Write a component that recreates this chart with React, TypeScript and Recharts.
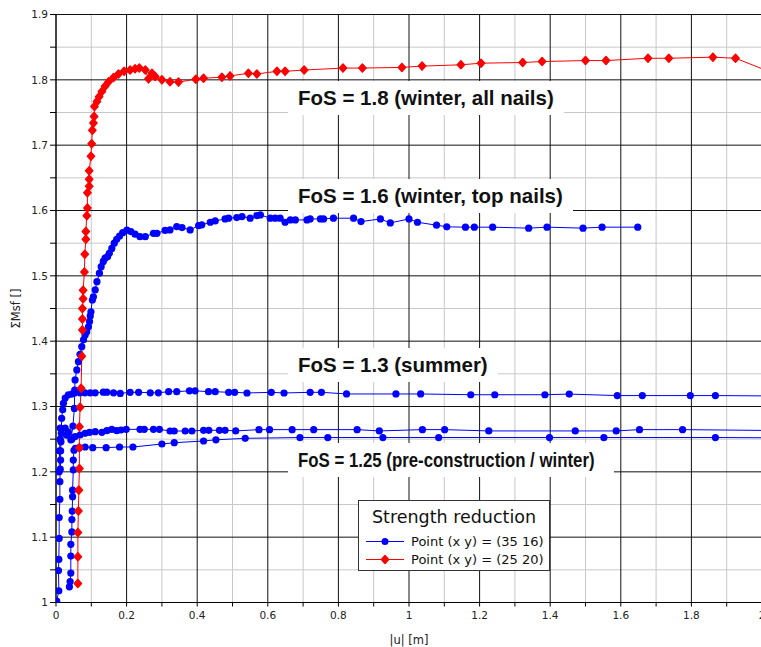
import React from 'react';
import { LineChart, Line, XAxis, YAxis, CartesianGrid } from 'recharts';

// axis ticks
const xTicks = [0, 0.1, 0.2, 0.3, 0.4, 0.5, 0.6, 0.7, 0.8, 0.9, 1, 1.1, 1.2, 1.3, 1.4, 1.5, 1.6, 1.7, 1.8, 1.9, 2];
const xMajor = [0, 0.2, 0.4, 0.6, 0.8, 1, 1.2, 1.4, 1.6, 1.8, 2];
const xMinor = [0.1, 0.3, 0.5, 0.7, 0.9, 1.1, 1.3, 1.5, 1.7, 1.9];
const yTicks = [1, 1.05, 1.1, 1.15, 1.2, 1.25, 1.3, 1.35, 1.4, 1.45, 1.5, 1.55, 1.6, 1.65, 1.7, 1.75, 1.8, 1.85, 1.9];
const yMajor = [1, 1.1, 1.2, 1.3, 1.4, 1.5, 1.6, 1.7, 1.8, 1.9];
const yMinor = [1.05, 1.15, 1.25, 1.35, 1.45, 1.55, 1.65, 1.75, 1.85];

// Point (25 20) - red
const red: [number, number][] = [
  [0.062, 1.029], [0.062, 1.07], [0.062, 1.107], [0.0635, 1.14], [0.0646, 1.172], [0.0663, 1.205],
  [0.0663, 1.237], [0.0663, 1.269], [0.0683, 1.299], [0.0711, 1.328], [0.0731, 1.377], [0.0748, 1.417],
  [0.0748, 1.434], [0.0748, 1.45], [0.0768, 1.465], [0.0768, 1.478], [0.0805, 1.506], [0.0816, 1.533],
  [0.0845, 1.556], [0.0845, 1.568], [0.0873, 1.592], [0.089, 1.604], [0.089, 1.627], [0.094, 1.637],
  [0.094, 1.648], [0.094, 1.661], [0.099, 1.683], [0.101, 1.702], [0.103, 1.723], [0.106, 1.734],
  [0.108, 1.744], [0.109, 1.759], [0.116, 1.767], [0.122, 1.774], [0.13, 1.782], [0.139, 1.79],
  [0.149, 1.797], [0.163, 1.8035], [0.177, 1.809], [0.193, 1.813], [0.21, 1.815], [0.224, 1.817],
  [0.236, 1.818], [0.253, 1.815], [0.262, 1.8015], [0.272, 1.81], [0.281, 1.805], [0.3, 1.8],
  [0.323, 1.797], [0.347, 1.7965], [0.396, 1.801], [0.418, 1.8025], [0.47, 1.804], [0.493, 1.806],
  [0.545, 1.81], [0.569, 1.809], [0.626, 1.813], [0.649, 1.813], [0.703, 1.815], [0.813, 1.818],
  [0.868, 1.818], [0.98, 1.819], [1.037, 1.821], [1.147, 1.823], [1.204, 1.8255], [1.322, 1.8265],
  [1.377, 1.828], [1.5, 1.8295], [1.558, 1.8295], [1.677, 1.833], [1.736, 1.833], [1.861, 1.8347],
  [1.925, 1.833], [2.08, 1.8],
];

// Point (35 16) - blue, FoS 1.6 run
const blue16: [number, number][] = [
  [0.03, 1.256], [0.042, 1.249], [0.048, 1.27], [0.052, 1.297], [0.053, 1.325], [0.054, 1.3406],
  [0.059, 1.356], [0.0635, 1.3686], [0.068, 1.38], [0.073, 1.3916], [0.078, 1.402], [0.0825, 1.4095],
  [0.087, 1.4146], [0.092, 1.422], [0.095, 1.43], [0.097, 1.4386], [0.099, 1.445], [0.103, 1.463],
  [0.106, 1.468], [0.111, 1.4784], [0.116, 1.491], [0.123, 1.504], [0.128, 1.514], [0.134, 1.522],
  [0.139, 1.527], [0.146, 1.5294], [0.151, 1.5346], [0.158, 1.542], [0.165, 1.55], [0.172, 1.556],
  [0.18, 1.561], [0.189, 1.566], [0.201, 1.57], [0.212, 1.5677], [0.224, 1.5637], [0.238, 1.56],
  [0.253, 1.56], [0.276, 1.565], [0.286, 1.565], [0.309, 1.5695], [0.323, 1.5703], [0.342, 1.5754],
  [0.357, 1.5738], [0.38, 1.5703], [0.404, 1.5769], [0.413, 1.578], [0.437, 1.582], [0.451, 1.584],
  [0.479, 1.5871], [0.489, 1.5882], [0.512, 1.5891], [0.527, 1.5907], [0.55, 1.5882], [0.569, 1.5922],
  [0.579, 1.5933], [0.607, 1.5882], [0.621, 1.5882], [0.635, 1.5882], [0.649, 1.582], [0.664, 1.5856],
  [0.678, 1.5856], [0.711, 1.5856], [0.72, 1.5871], [0.749, 1.5871], [0.758, 1.5871], [0.786, 1.5882],
  [0.843, 1.5882], [0.864, 1.583], [0.919, 1.5871], [0.947, 1.581], [1.0, 1.5871], [1.024, 1.582],
  [1.078, 1.5775], [1.107, 1.575], [1.16, 1.5745], [1.185, 1.5745], [1.237, 1.5745], [1.339, 1.573],
  [1.391, 1.5745], [1.493, 1.573], [1.547, 1.5745], [1.648, 1.5745],
];

// FoS 1.3 run
const blue13: [number, number][] = [
  [0.002, 1.002], [0.008, 1.018], [0.007, 1.049], [0.008, 1.066], [0.009, 1.098], [0.009, 1.13],
  [0.011, 1.158], [0.011, 1.185], [0.012, 1.204], [0.013, 1.218], [0.013, 1.232], [0.014, 1.246],
  [0.015, 1.259], [0.016, 1.282], [0.019, 1.295], [0.021, 1.305], [0.026, 1.313], [0.035, 1.318],
  [0.045, 1.319], [0.054, 1.321], [0.068, 1.321], [0.082, 1.321], [0.097, 1.321], [0.111, 1.321],
  [0.134, 1.322], [0.144, 1.322], [0.163, 1.321], [0.182, 1.32], [0.21, 1.3217], [0.234, 1.3217],
  [0.267, 1.321], [0.29, 1.321], [0.319, 1.3227], [0.342, 1.3227], [0.378, 1.324], [0.394, 1.324],
  [0.432, 1.3227], [0.451, 1.3227], [0.489, 1.3217], [0.506, 1.3217], [0.541, 1.3207], [0.61, 1.3217],
  [0.646, 1.3207], [0.72, 1.3217], [0.752, 1.3217], [0.823, 1.3192], [0.963, 1.3192], [1.033, 1.3192],
  [1.175, 1.318], [1.243, 1.318], [1.385, 1.318], [1.454, 1.319], [1.59, 1.3167], [1.661, 1.3167],
  [1.797, 1.3167], [1.868, 1.3167], [2.08, 1.316],
];

// FoS 1.25 runs
const blue125a: [number, number][] = [
  [0.009, 1.2], [0.01, 1.232], [0.012, 1.25], [0.012, 1.267], [0.026, 1.267], [0.035, 1.261],
  [0.045, 1.25], [0.054, 1.254], [0.068, 1.2564], [0.0825, 1.259], [0.095, 1.2605], [0.111, 1.2614],
  [0.13, 1.2605], [0.144, 1.263], [0.158, 1.265], [0.172, 1.263], [0.184, 1.264], [0.199, 1.265],
  [0.238, 1.265], [0.25, 1.265], [0.276, 1.265], [0.293, 1.265], [0.323, 1.2625], [0.335, 1.2625],
  [0.366, 1.2625], [0.385, 1.2625], [0.418, 1.2636], [0.433, 1.2636], [0.463, 1.2636], [0.479, 1.2636],
  [0.509, 1.2626], [0.575, 1.2646], [0.605, 1.2646], [0.669, 1.2646], [0.73, 1.2646], [0.853, 1.2646],
  [0.916, 1.2626], [1.038, 1.2646], [1.101, 1.2646], [1.226, 1.2626], [1.471, 1.2626], [1.587, 1.2626],
  [1.653, 1.2646], [1.775, 1.2646], [2.08, 1.263],
];
const blue125b: [number, number][] = [
  [0.038, 1.024], [0.04, 1.032], [0.042, 1.045], [0.042, 1.071], [0.042, 1.089], [0.045, 1.108],
  [0.045, 1.127], [0.046, 1.14], [0.047, 1.162], [0.047, 1.172], [0.049, 1.203], [0.049, 1.218],
  [0.051, 1.233], [0.055, 1.236], [0.066, 1.237], [0.0825, 1.238], [0.104, 1.237], [0.142, 1.237],
  [0.18, 1.238], [0.218, 1.238], [0.3, 1.2426], [0.335, 1.2446], [0.418, 1.2472], [0.453, 1.249],
  [0.536, 1.2513], [0.691, 1.2525], [0.77, 1.2525], [0.926, 1.2525], [1.084, 1.2525], [1.398, 1.2525],
  [1.552, 1.2525], [1.868, 1.2525], [2.08, 1.252],
];

// annotation labels (the last one is set in a narrow face)
const labels = [
  { text: 'FoS = 1.8 (winter, all nails)', top: 81, narrow: false },
  { text: 'FoS = 1.6 (winter, top nails)', top: 179, narrow: false },
  { text: 'FoS = 1.3 (summer)', top: 348, narrow: false },
  { text: 'FoS = 1.25 (pre-construction / winter)', top: 443, narrow: true },
];

const BLUE = '#0000ff';
const RED = '#ff0000';

const toRows = (pts: [number, number][]) => pts.map(([x, y]) => ({ x, y }));

const BlueDot = (p: any) => {
  if (p.cx == null || p.cy == null) return <g key={p.index} />;
  return <circle key={p.index} cx={p.cx} cy={p.cy} r={3.6} fill={BLUE} />;
};

const RedDot = (p: any) => {
  if (p.cx == null || p.cy == null) return <g key={p.index} />;
  const { cx, cy } = p;
  return (
    <path
      key={p.index}
      d={`M${cx},${cy - 4} L${cx + 3.6},${cy} L${cx},${cy + 4} L${cx - 3.6},${cy} Z`}
      fill={RED}
      stroke={RED}
      strokeWidth={1.5}
      strokeLinejoin="round"
    />
  );
};

const fmt = (major: number[]) => (v: number) => (major.includes(v) ? String(v) : '');

const tickStyle = { fontSize: 10.5, fill: '#222', fontFamily: 'DejaVu Sans, sans-serif' };

export default function App() {
  const series = [
    { key: 'b13', data: toRows(blue13), color: BLUE, dot: BlueDot },
    { key: 'b125a', data: toRows(blue125a), color: BLUE, dot: BlueDot },
    { key: 'b125b', data: toRows(blue125b), color: BLUE, dot: BlueDot },
    { key: 'b16', data: toRows(blue16), color: BLUE, dot: BlueDot },
    { key: 'red', data: toRows(red), color: RED, dot: RedDot },
  ];

  return (
    <div style={{ position: 'fixed', left: 0, top: 0, width: 761, height: 647, overflow: 'hidden', background: '#fff' }}>
      <LineChart width={780} height={647} margin={{ top: 14.5, right: 18, bottom: 0, left: 0 }}>
        <CartesianGrid stroke="#c8c8c8" verticalValues={xMinor} horizontalValues={yMinor} />
        <CartesianGrid stroke="#111111" verticalValues={xMajor} horizontalValues={yMajor} />
        <XAxis
          type="number"
          dataKey="x"
          domain={[0, 2]}
          allowDataOverflow
          ticks={xTicks}
          interval={0}
          tickFormatter={fmt(xMajor)}
          tick={tickStyle}
          tickSize={4}
          tickMargin={5}
          height={44.5}
          stroke="#000"
          label={{ value: '|u| [m]', position: 'insideBottom', offset: 3, fontSize: 11.5, fill: '#222', fontFamily: 'DejaVu Sans, sans-serif' }}
        />
        <YAxis
          type="number"
          domain={[1, 1.9]}
          allowDataOverflow
          ticks={yTicks}
          interval={0}
          tickFormatter={fmt(yMajor)}
          tick={tickStyle}
          tickSize={6}
          tickMargin={2}
          width={56}
          stroke="#000"
          label={{
            value: 'ΣMsf []',
            angle: -90,
            position: 'insideLeft',
            offset: 16,
            fontSize: 11.5,
            fill: '#222',
            fontFamily: 'DejaVu Sans, sans-serif',
            style: { textAnchor: 'middle' },
          }}
        />
        {series.map((s) => (
          <Line
            key={s.key}
            data={s.data}
            dataKey="y"
            type="linear"
            stroke={s.color}
            strokeWidth={1}
            dot={s.dot}
            activeDot={false}
            isAnimationActive={false}
          />
        ))}
      </LineChart>

      {labels.map((l) => (
        <div
          key={l.text}
          style={{
            position: 'absolute',
            left: 288,
            top: l.top,
            height: 34,
            width: l.narrow ? 306 : undefined,
            lineHeight: '34px',
            padding: '0 10px',
            background: '#fff',
            fontFamily: '"Liberation Sans", Arial, sans-serif',
            fontWeight: 'bold',
            fontSize: 20.5,
            color: '#111',
            whiteSpace: 'nowrap',
          }}
        >
          <span
            style={{
              display: 'inline-block',
              transform: l.narrow ? 'scaleX(0.82)' : undefined,
              transformOrigin: 'left center',
            }}
          >
            {l.text}
          </span>
        </div>
      ))}

      <div
        style={{
          position: 'absolute',
          left: 358,
          top: 500,
          width: 190,
          height: 69,
          border: '1px solid #333',
          background: '#fff',
          fontFamily: 'DejaVu Sans, sans-serif',
          color: '#111',
        }}
      >
        <div style={{ textAlign: 'center', fontSize: 17.5, lineHeight: '20px', marginTop: 6 }}>Strength reduction</div>
        {[
          { name: 'Point (x y) = (35 16)', color: BLUE, marker: 'circle' },
          { name: 'Point (x y) = (25 20)', color: RED, marker: 'diamond' },
        ].map((e, i) => (
          <div key={e.name} style={{ position: 'absolute', left: 6, top: 32 + i * 17.5, height: 17, display: 'flex', alignItems: 'center', fontSize: 13 }}>
            <svg width={40} height={17} style={{ marginRight: 6 }}>
              <line x1={1} y1={8.5} x2={39} y2={8.5} stroke={e.color} strokeWidth={1} />
              {e.marker === 'circle' ? (
                <circle cx={20} cy={8.5} r={3.5} fill={e.color} />
              ) : (
                <path d="M20,4.5 L23.6,8.5 L20,12.5 L16.4,8.5 Z" fill={e.color} stroke={e.color} strokeWidth={1.5} strokeLinejoin="round" />
              )}
            </svg>
            <span>{e.name}</span>
          </div>
        ))}
      </div>
    </div>
  );
}
